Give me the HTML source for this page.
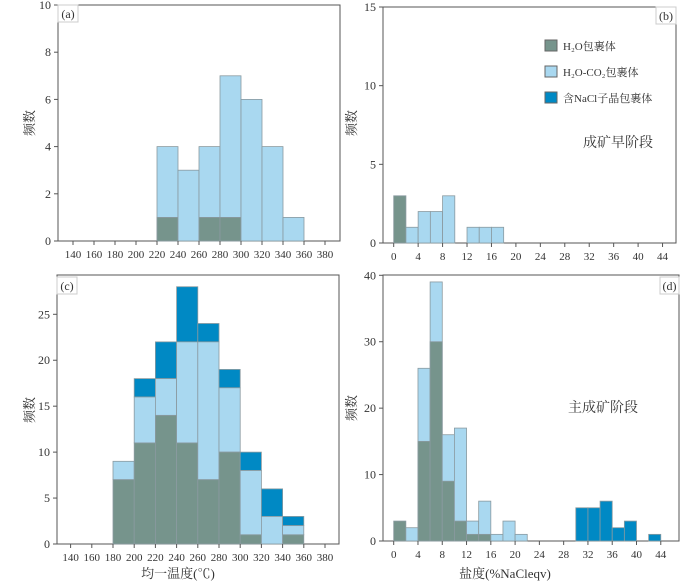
<!DOCTYPE html>
<html><head><meta charset="utf-8">
<style>
body{margin:0;background:#fff;}
svg text{font-family:"Liberation Serif","Noto Serif CJK SC",serif;fill:#333;}
</style></head><body>
<svg id="s" width="700" height="582" xmlns="http://www.w3.org/2000/svg"></svg>
<script>
// ---- data ----
const aBins=[220,240,260,280,300,320,340];
const aLight=[4,3,4,7,6,4,1];
const aDark=[1,0,1,1,0,0,0];
const bBins=[0,2,4,6,8,10,12,14,16];
const bLight=[0,1,2,2,3,0,1,1,1];
const bDark=[3,0,0,0,0,0,0,0,0];
const cBins=[180,200,220,240,260,280,300,320,340];
const cH2O=[7,11,14,11,7,10,1,0,1];
const cCO2=[2,5,4,11,15,7,7,3,1];
const cNaCl=[0,2,4,6,2,2,2,3,1];
const dBins=[0,2,4,6,8,10,12,14,16,18,20];
const dLight=[0,2,26,39,16,17,3,6,1,3,1];
const dDark=[3,0,15,30,9,3,1,1,0,0,0];
const dNaClBins=[30,32,34,36,38,40,42];
const dNaCl=[5,5,6,2,3,0,1];
const tTicks=[140,160,180,200,220,240,260,280,300,320,340,360,380];
const sTicks=[0,4,8,12,16,20,24,28,32,36,40,44];

const C_DARK="#76948c",C_LIGHT="#a9d8f0",C_NACL="#0089c4",STROKE="#8a9aa0";
const S=document.getElementById('s');
const NS="http://www.w3.org/2000/svg";
function el(tag,at,txt){const e=document.createElementNS(NS,tag);for(const k in at)e.setAttribute(k,at[k]);if(txt!==undefined)e.textContent=txt;S.appendChild(e);return e;}

function panel(p){
  // p: L,R,T,B, xmin,xk (px/unit), x0px, ymax, name
  const fr=el('rect',{x:p.L,y:p.T,width:p.R-p.L,height:p.B-p.T,fill:'none',stroke:'#555','stroke-width':1});
  
  
  return {X:v=>p.x0+(v-p.xv0)*p.xk, Y:v=>p.B-(v)*(p.B-p.Ty)/p.ymax, p};
}
function bar(ax,x0,x1,y0,y1,fill,name){
  if(y1<=y0)return;
  const r=el('rect',{x:ax.X(x0),y:ax.Y(y1),width:ax.X(x1)-ax.X(x0),height:ax.Y(y0)-ax.Y(y1),fill:fill,stroke:STROKE,'stroke-width':0.8});
  
  
}
function yticks(ax,vals){
  vals.forEach(v=>{const y=ax.Y(v);
    el('line',{x1:ax.p.L-4,x2:ax.p.L,y1:y,y2:y,stroke:'#555'});
    const t=el('text',{x:ax.p.L-7,y:y+4,'font-size':12,'text-anchor':'end'},v);
    
    });
}
function xticks(ax,vals){
  vals.forEach(v=>{const x=ax.X(v);
    el('line',{x1:x,x2:x,y1:ax.p.B,y2:ax.p.B+4,stroke:'#555'});
    const t=el('text',{x:x,y:ax.p.B+17,'font-size':11,'text-anchor':'middle'},v);
    
    });
}
function ylabel(x,y){const t=el('text',{x:x,y:y,'font-size':13,'text-anchor':'middle',transform:`rotate(-90 ${x} ${y})`},'频数');
  }
function tag(x,y,w,s){el('rect',{x:x,y:y,width:w,height:17,fill:'#fff',stroke:'#ccc'});
  const t=el('text',{x:x+w/2,y:y+13,'font-size':12,'text-anchor':'middle'},s);
  }

// (a)
const A=panel({L:58,R:340,T:5,B:241,Ty:5,ymax:10,x0:157,xv0:220,xk:1.05,name:'panel-a'});
aBins.forEach((b,i)=>{bar(A,b,b+20,0,aLight[i],C_LIGHT,'bar-a-h2o-co2');bar(A,b,b+20,0,aDark[i],C_DARK,'bar-a-h2o');});
yticks(A,[0,2,4,6,8,10]);xticks(A,tTicks);ylabel(34,123);tag(58,5,20,'(a)');

// (b)
const B=panel({L:383,R:676,T:7,B:243,Ty:7,ymax:15,x0:393.7,xv0:0,xk:6.11,name:'panel-b'});
bBins.forEach((b,i)=>{bar(B,b,b+2,0,bLight[i],C_LIGHT,'bar-b-h2o-co2');bar(B,b,b+2,0,bDark[i],C_DARK,'bar-b-h2o');});
yticks(B,[0,5,10,15]);xticks(B,sTicks);ylabel(356,123);tag(656,7,20,'(b)');
[[C_DARK,'H₂O包裹体',45],[C_LIGHT,'H₂O-CO₂包裹体',71],[C_NACL,'含NaCl子晶包裹体',97]].forEach(l=>{
  const r=el('rect',{x:545,y:l[2]-5,width:12,height:11,fill:l[0],stroke:'#666'});
  
  const t=el('text',{x:563,y:l[2]+5,'font-size':11},l[1]);
  });
el('text',{x:583,y:147,'font-size':14},'成矿早阶段');

// (c)
const Cx=panel({L:57,R:339,T:275,B:544,Ty:314.3,ymax:25,x0:113,xv0:180,xk:1.06,name:'panel-c'});
cBins.forEach((b,i)=>{const h1=cH2O[i],h2=h1+cCO2[i],h3=h2+cNaCl[i];
  bar(Cx,b,b+20,h2,h3,C_NACL,'bar-c-nacl');bar(Cx,b,b+20,h1,h2,C_LIGHT,'bar-c-h2o-co2');bar(Cx,b,b+20,0,h1,C_DARK,'bar-c-h2o');});
yticks(Cx,[0,5,10,15,20,25]);xticks(Cx,tTicks);ylabel(34,410);tag(57,277,20,'(c)');
el('text',{x:178,y:578,'font-size':13,'text-anchor':'middle'},'均一温度(℃)');

// (d)
const D=panel({L:383,R:679,T:275,B:541,Ty:275.3,ymax:40,x0:393.7,xv0:0,xk:6.07,name:'panel-d'});
dBins.forEach((b,i)=>{bar(D,b,b+2,0,dLight[i],C_LIGHT,'bar-d-h2o-co2');bar(D,b,b+2,0,dDark[i],C_DARK,'bar-d-h2o');});
dNaClBins.forEach((b,i)=>bar(D,b,b+2,0,dNaCl[i],C_NACL,'bar-d-nacl'));
yticks(D,[0,10,20,30,40]);xticks(D,sTicks);ylabel(356,408);tag(660,277,19,'(d)');
el('text',{x:568,y:412,'font-size':14},'主成矿阶段');
el('text',{x:505,y:578,'font-size':13,'text-anchor':'middle'},'盐度(%NaCleqv)');
</script>
</body></html>
